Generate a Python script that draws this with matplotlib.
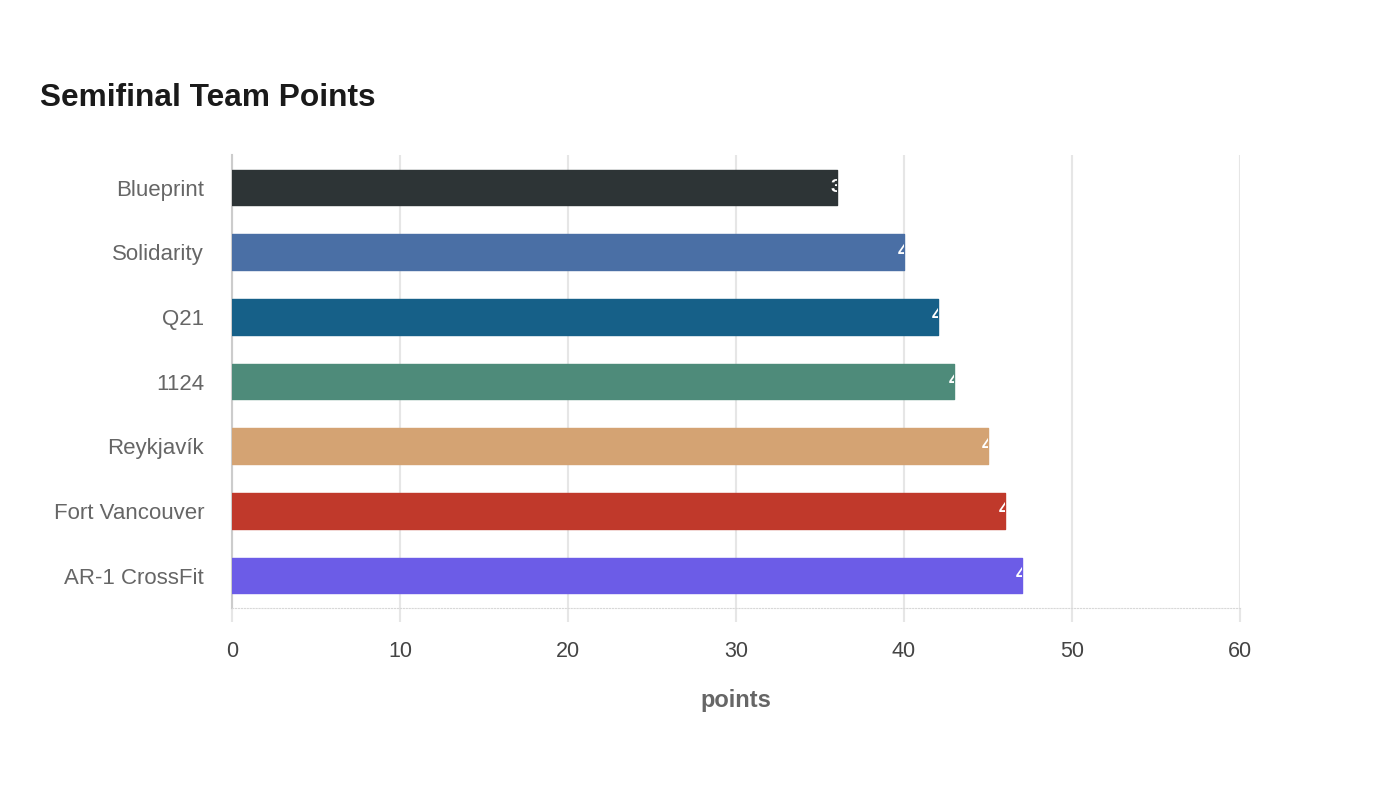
import matplotlib.pyplot as plt
from matplotlib.ticker import MultipleLocator

teams = ["Blueprint", "Solidarity", "Q21", "1124", "Reykjavík", "Fort Vancouver", "AR-1 CrossFit"]
points = [36, 40, 42, 43, 45, 46, 47]
colors = ["#2d3436", "#4a6fa5", "#166088", "#4e8b7a", "#d4a373", "#c0392b", "#6c5ce7"]

plt.rcParams['font.family'] = ['Liberation Sans', 'DejaVu Sans']

fig = plt.figure(figsize=(14, 8), dpi=100)
ax = fig.add_axes([0.1657, 0.24, 0.72, 0.566])

bars = ax.barh(teams, points, height=0.55, color=colors, edgecolor=colors,
               linewidth=1.0, joinstyle='round', zorder=3)

# value labels sit at the bar end and get cut off by the bar itself
for bar, val in zip(bars, points):
    t = ax.annotate(str(val), xy=(val, bar.get_y() + bar.get_height() / 2),
                    xytext=(-6, 0), textcoords='offset pixels',
                    ha='left', va='center', color='white',
                    fontsize=14, fontweight='bold', zorder=4)
    t.set_clip_path(bar)

ax.set_xlim(0, 60)
ax.set_ylim(6.5, -0.5)
ax.xaxis.set_major_locator(MultipleLocator(10))
ax.grid(axis='x', color='#e6e6e6', linewidth=1.5, zorder=0)
ax.set_axisbelow(True)

for s in ['top', 'right']:
    ax.spines[s].set_visible(False)
ax.spines['left'].set_color('#cccccc')
ax.spines['left'].set_linewidth(1.5)
ax.spines['bottom'].set_color('#d8d8d8')
ax.spines['bottom'].set_linestyle(':')

ax.tick_params(axis='x', length=10, color='#e6e6e6', width=1.5,
               labelsize=15.5, labelcolor='#444444', pad=14)
ax.tick_params(axis='y', length=0, labelsize=16, labelcolor='#666666', pad=20)

ax.set_xlabel("points", fontsize=17, fontweight='bold', color='#666666', labelpad=19)

fig.text(0.0286, 0.877, "Semifinal Team Points", fontsize=22.8, fontweight='bold',
         color='#1a1a1a', ha='left', va='center')

fig.savefig("out.png", dpi=100)
